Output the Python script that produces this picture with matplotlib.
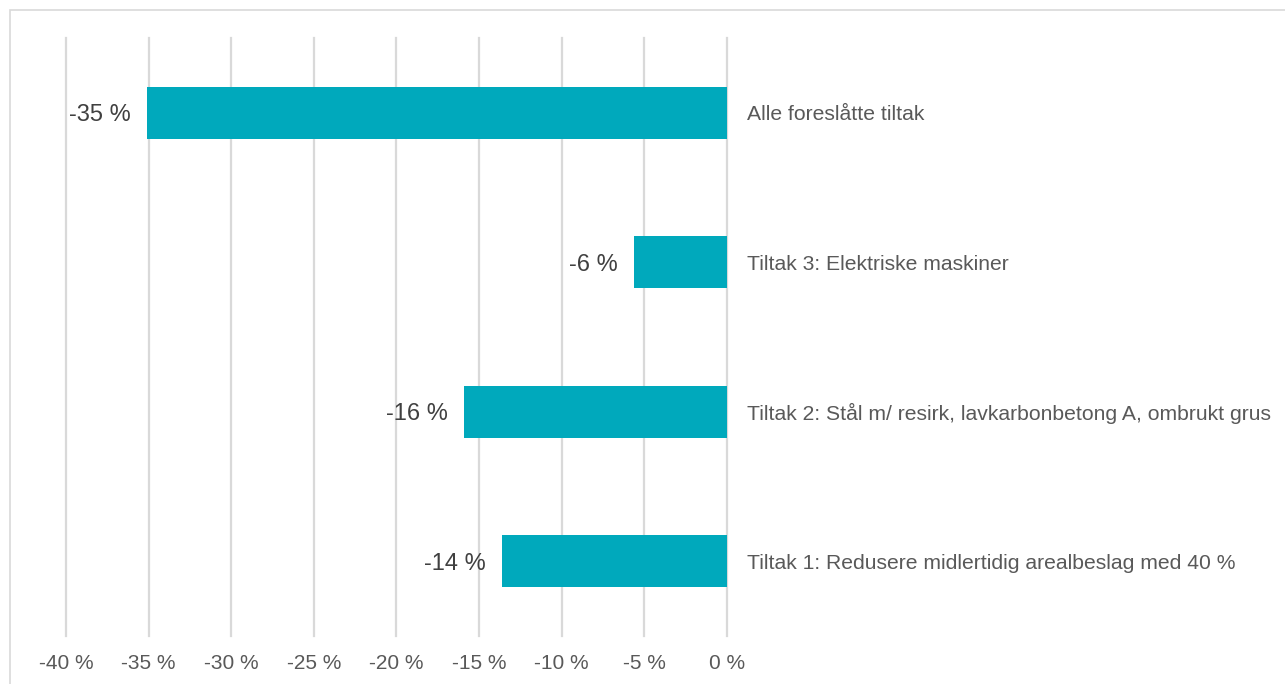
import matplotlib.pyplot as plt
from matplotlib.patches import Rectangle
from matplotlib.ticker import FuncFormatter
import numpy as np

plt.rcParams['font.family'] = ['Liberation Sans', 'DejaVu Sans']

# categories bottom -> top
categories = ["Tiltak 1: Redusere midlertidig arealbeslag med 40 %",
              "Tiltak 2: Stål m/ resirk, lavkarbonbetong A, ombrukt grus",
              "Tiltak 3: Elektriske maskiner",
              "Alle foreslåtte tiltak"]
values = [-13.6, -15.9, -5.6, -35.1]
xticks = [-40, -35, -30, -25, -20, -15, -10, -5, 0]

W, H = 1285, 684
fig = plt.figure(figsize=(W / 100, H / 100), dpi=100)
ax = fig.add_axes([66 / W, (H - 636) / H, (727 - 66) / W, (636 - 38) / H])

# outer frame
fig.patches.append(Rectangle((10 / W, -0.05), 1.2, (H - 10) / H + 0.05,
                             transform=fig.transFigure, fill=False,
                             edgecolor="#d9d9d9", linewidth=1.2))

y = np.arange(len(categories))
ax.barh(y, values, height=0.35, color="#00a9bc", zorder=3)

for yi, v, c in zip(y, values, categories):
    ax.text(v - 1.0, yi, f"{round(v):d} %", ha="right", va="center_baseline",
            fontsize=17, color="#404040", zorder=4)
    ax.text(1.2, yi, c, ha="left", va="center_baseline", fontsize=15.2,
            color="#595959", clip_on=False)

ax.set_xlim(-40, 0)
ax.set_ylim(-0.5, len(categories) - 0.5)
ax.set_xticks(xticks)
ax.xaxis.set_major_formatter(FuncFormatter(lambda v, p: f"{int(v)} %"))
ax.tick_params(axis="x", length=0, pad=13, labelsize=15, labelcolor="#595959")
ax.set_yticks([])
ax.grid(axis="x", color="#d9d9d9", linewidth=1.6, zorder=0)
for gl in ax.get_xgridlines():
    gl.set_clip_on(False)
for s in ax.spines.values():
    s.set_visible(False)

fig.savefig("out.png", dpi=100)
